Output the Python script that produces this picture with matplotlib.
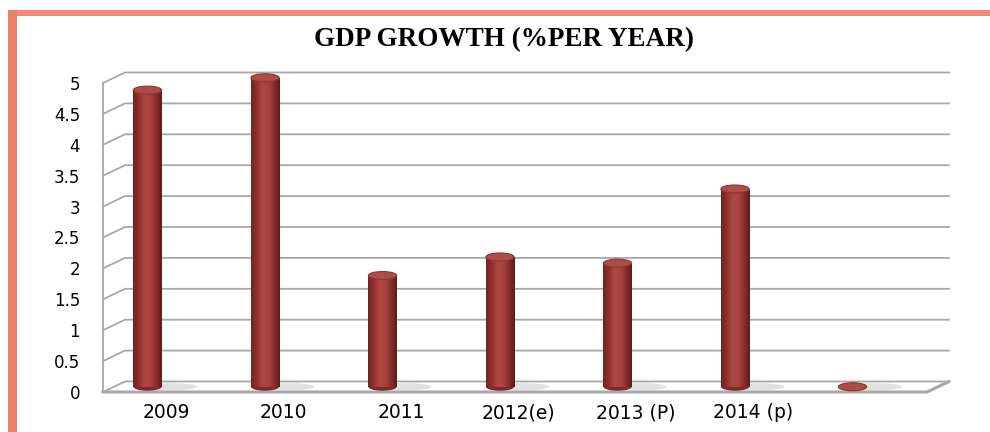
import numpy as np
import matplotlib
matplotlib.use("Agg")
import matplotlib.pyplot as plt
from matplotlib.patches import Rectangle, Ellipse
from matplotlib.colors import LinearSegmentedColormap
from matplotlib.transforms import ScaledTranslation

# data
categories = ["2009", "2010", "2011", "2012(e)", "2013 (P)", "2014 (p)", ""]
growth = [4.8, 5.0, 1.8, 2.1, 2.0, 3.2, 0.0]
y_ticks = [0, 0.5, 1, 1.5, 2, 2.5, 3, 3.5, 4, 4.5, 5]
y_labels = ["0", "0.5", "1", "1.5", "2", "2.5", "3", "3.5", "4", "4.5", "5"]

W, H = 990, 432
fig = plt.figure(figsize=(W / 100, H / 100), dpi=100)
fig.patch.set_facecolor("white")

# front plane of the 3d box (pixels)
left_px, right_px, bot_px, top_px = 103, 927, 392, 83
ax = fig.add_axes([left_px / W, (H - bot_px) / H,
                   (right_px - left_px) / W, (bot_px - top_px) / H])
xmin = -0.285
unit_px = 117.5
xmax = xmin + (right_px - left_px) / unit_px
ymax = 5.0
py = ymax / (bot_px - top_px)          # data units per pixel (y)
px = 1.0 / unit_px                     # data units per pixel (x)
dx, dy = 22 * px, 10.5 * py            # depth offset of back wall

grid_c = "#a8a8a8"
# left wall + back wall gridlines
for t in y_ticks:
    ax.plot([xmin, xmin + dx, xmax + dx], [t, t + dy, t + dy],
            color=grid_c, lw=1.3, clip_on=False, zorder=1)
# left front edge and floor
ax.plot([xmin, xmin], [0, ymax], color=grid_c, lw=1.3, clip_on=False, zorder=1)
ax.plot([xmin, xmax, xmax + dx], [0, 0, dy], color=grid_c, lw=2.2,
        clip_on=False, zorder=1)

# cylinder bars
cyl = LinearSegmentedColormap.from_list(
    "cyl", ["#6e2321", "#93312f", "#ad4845", "#a94340", "#8a2e2c", "#5e1c1a"])
grad = np.linspace(0, 1, 64).reshape(1, -1)
bw = 0.24
eh = 8 * py
xs = np.arange(len(categories)) + dx / 2
bars = ax.bar(xs, growth, width=bw, bottom=dy / 2, color="#9a3a37",
              zorder=3, clip_on=False)
for x, v, b in zip(xs, growth, bars):
    # floor shadow
    ax.add_patch(Ellipse((x + bw * 0.8, dy / 2), bw * 1.9, eh * 0.9,
                         color="#bdbdbd", alpha=0.45, zorder=2, lw=0, clip_on=False))
    # rounded base
    ax.add_patch(Ellipse((x, dy / 2), bw, eh, color="#7d2a28", zorder=2.5,
                         lw=0, clip_on=False))
    if v > 0:
        im = ax.imshow(grad, extent=[x - bw / 2, x + bw / 2, dy / 2, v + dy / 2],
                       cmap=cyl, aspect="auto", zorder=3.1, interpolation="bilinear")
        im.set_clip_path(b)
    # top cap
    ax.add_patch(Ellipse((x, v + dy / 2), bw, eh, facecolor="#b04c48",
                         edgecolor="#8c3432", lw=0.8, zorder=4, clip_on=False))

ax.set_xlim(xmin, xmax)
ax.set_ylim(0, ymax)
for s in ax.spines.values():
    s.set_visible(False)
ax.set_yticks(y_ticks)
ax.set_yticklabels(y_labels, fontsize=12, family="DejaVu Sans")
ax.set_xticks(np.arange(len(categories)))
ax.set_xticklabels(categories, fontsize=13.5, family="DejaVu Sans")
ax.tick_params(axis="y", length=0, pad=16.5)
ax.tick_params(axis="x", length=0, pad=8)
shift = ScaledTranslation(29.5 / 100, 0, fig.dpi_scale_trans)
for lab in ax.get_xticklabels():
    lab.set_transform(lab.get_transform() + shift)

# title
fig.text(504 / W, 1 - 40 / H, "GDP GROWTH (%PER YEAR)", ha="center", va="center",
         fontsize=19.5, fontweight="bold", family="Liberation Serif", color="black")

# salmon frame on top and left
fig.add_artist(Rectangle((8 / W, 1 - 16 / H), (W - 8) / W, 6 / H,
                         transform=fig.transFigure, color="#ef8b75", lw=0))
fig.add_artist(Rectangle((8 / W, 0), 9 / W, 1 - 10 / H,
                         transform=fig.transFigure, color="#ec8068", lw=0))

fig.savefig("out.png", dpi=100)
